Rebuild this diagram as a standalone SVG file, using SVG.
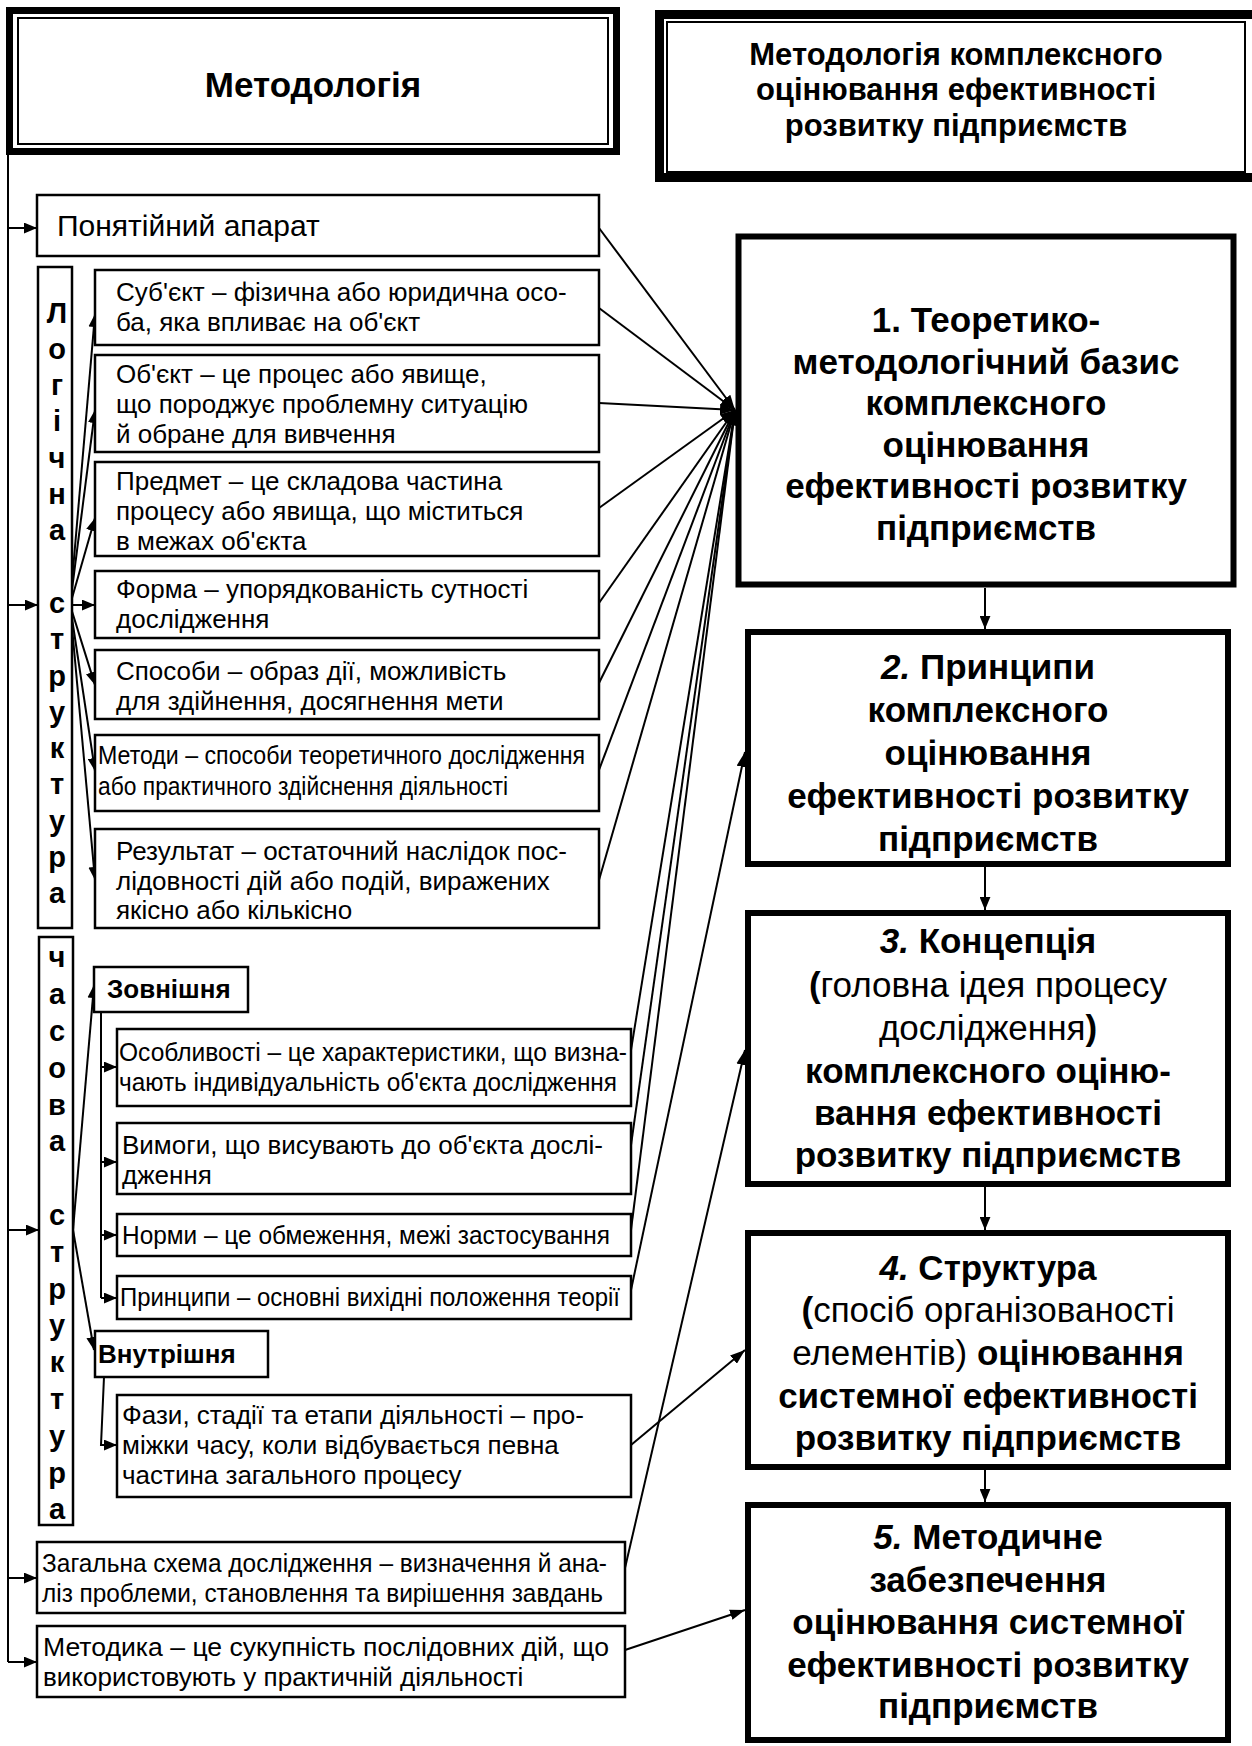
<svg xmlns="http://www.w3.org/2000/svg" width="1252" height="1746" viewBox="0 0 1252 1746">
<defs>
<style>
.bx{fill:#fff;stroke:#000;stroke-width:2.5}
.rb{fill:#fff;stroke:#000;stroke-width:6}
.t{font-family:"Liberation Sans",Arial,sans-serif;font-size:26px;fill:#000}
.vb{font-family:"Liberation Sans",Arial,sans-serif;font-size:29px;font-weight:bold;text-anchor:middle;fill:#000}
.sb{font-family:"Liberation Sans",Arial,sans-serif;font-size:26px;font-weight:bold;fill:#000}
.rt{font-family:"Liberation Sans",Arial,sans-serif;font-size:35px;font-weight:bold;text-anchor:middle;fill:#000}
.n{font-weight:normal}
.i{font-style:italic}
.c{fill:none;stroke:#000;stroke-width:2}
</style>
<marker id="ah" viewBox="0 0 12 10" refX="12" refY="5" markerWidth="13" markerHeight="11" markerUnits="userSpaceOnUse" orient="auto"><path d="M0,0 L12,5 L0,10 z" fill="#000"/></marker>
<marker id="ah2" viewBox="0 0 14 10" refX="14" refY="5" markerWidth="15" markerHeight="11" markerUnits="userSpaceOnUse" orient="auto"><path d="M0,0 L14,5 L0,10 z" fill="#000"/></marker>
</defs>
<rect width="1252" height="1746" fill="#fff"/>

<g id="connectors">
<line class="c" x1="8" y1="150" x2="8" y2="1662" stroke-width="2.5"/>
<line class="c" x1="8" y1="228" x2="37" y2="228" marker-end="url(#ah)"/>
<line class="c" x1="8" y1="605" x2="38" y2="605" marker-end="url(#ah)"/>
<line class="c" x1="8" y1="1230" x2="39" y2="1230" marker-end="url(#ah)"/>
<line class="c" x1="8" y1="1578" x2="37" y2="1578" marker-end="url(#ah)"/>
<line class="c" x1="8" y1="1662" x2="37" y2="1662" marker-end="url(#ah)"/>
<line class="c" x1="70" y1="605" x2="95" y2="314" marker-end="url(#ah)"/>
<line class="c" x1="70" y1="605" x2="95" y2="410" marker-end="url(#ah)"/>
<line class="c" x1="70" y1="605" x2="95" y2="518" marker-end="url(#ah)"/>
<line class="c" x1="70" y1="605" x2="95" y2="605" marker-end="url(#ah)"/>
<line class="c" x1="70" y1="605" x2="95" y2="685" marker-end="url(#ah)"/>
<line class="c" x1="70" y1="605" x2="95" y2="771" marker-end="url(#ah)"/>
<line class="c" x1="70" y1="605" x2="95" y2="880" marker-end="url(#ah)"/>
<line class="c" x1="73" y1="1230" x2="94" y2="985" marker-end="url(#ah)"/>
<line class="c" x1="73" y1="1230" x2="94" y2="1350" marker-end="url(#ah)"/>
<line class="c" x1="101" y1="1012" x2="101" y2="1298"/>
<line class="c" x1="101" y1="1067" x2="117" y2="1067" marker-end="url(#ah)"/>
<line class="c" x1="101" y1="1162" x2="117" y2="1162" marker-end="url(#ah)"/>
<line class="c" x1="101" y1="1235" x2="117" y2="1235" marker-end="url(#ah)"/>
<line class="c" x1="101" y1="1298" x2="117" y2="1298" marker-end="url(#ah)"/>
<polyline class="c" points="104,1377 101,1445 117,1445" marker-end="url(#ah)"/>
<line class="c" x1="599" y1="228" x2="735" y2="410" marker-end="url(#ah2)"/>
<line class="c" x1="599" y1="308" x2="735" y2="410" marker-end="url(#ah2)"/>
<line class="c" x1="599" y1="403" x2="735" y2="410" marker-end="url(#ah2)"/>
<line class="c" x1="599" y1="508" x2="735" y2="410" marker-end="url(#ah2)"/>
<line class="c" x1="599" y1="603" x2="735" y2="410" marker-end="url(#ah2)"/>
<line class="c" x1="599" y1="683" x2="735" y2="410" marker-end="url(#ah2)"/>
<line class="c" x1="599" y1="770" x2="735" y2="410" marker-end="url(#ah2)"/>
<line class="c" x1="599" y1="880" x2="735" y2="410" marker-end="url(#ah2)"/>
<line class="c" x1="631" y1="1050" x2="735" y2="410" marker-end="url(#ah2)"/>
<line class="c" x1="631" y1="1145" x2="735" y2="410" marker-end="url(#ah2)"/>
<line class="c" x1="631" y1="1230" x2="735" y2="410" marker-end="url(#ah2)"/>
<line class="c" x1="631" y1="1290" x2="745" y2="752" marker-end="url(#ah2)"/>
<line class="c" x1="625" y1="1568" x2="745" y2="1050" marker-end="url(#ah2)"/>
<line class="c" x1="631" y1="1445" x2="745" y2="1350" marker-end="url(#ah2)"/>
<line class="c" x1="625" y1="1650" x2="745" y2="1610" marker-end="url(#ah2)"/>
<line class="c" x1="985" y1="588" x2="985" y2="629" marker-end="url(#ah)"/>
<line class="c" x1="985" y1="867" x2="985" y2="910" marker-end="url(#ah)"/>
<line class="c" x1="985" y1="1187" x2="985" y2="1230" marker-end="url(#ah)"/>
<line class="c" x1="985" y1="1470" x2="985" y2="1502" marker-end="url(#ah)"/>
</g>

<g id="n-methodology">
<rect x="9.5" y="10.5" width="607" height="141" fill="#fff" stroke="#000" stroke-width="7"/>
<rect x="18" y="18" width="590" height="126" fill="none" stroke="#000" stroke-width="2"/>
<text x="313" y="97" class="rt">Методологія</text>
</g>

<g id="n-title">
<rect x="659.5" y="14.5" width="600" height="163" fill="#fff" stroke="#000" stroke-width="9"/>
<rect x="667" y="22" width="578" height="150" fill="none" stroke="#000" stroke-width="2"/>
<text class="rt" style="font-size:31px" x="956"><tspan x="956" y="65">Методологія комплексного</tspan><tspan x="956" y="100">оцінювання ефективності</tspan><tspan x="956" y="136">розвитку підприємств</tspan></text>
</g>

<g id="n-aparat">
<rect class="bx" x="37" y="195" width="562" height="61"/>
<text class="t" x="57" y="236" style="font-size:30px">Понятійний апарат</text>
</g>

<g id="n-logical">
<rect class="bx" x="38" y="267" width="34" height="661"/>
<text class="vb" x="57" y="323">Л</text>
<text class="vb" x="57" y="359">о</text>
<text class="vb" x="57" y="395">г</text>
<text class="vb" x="57" y="431">і</text>
<text class="vb" x="57" y="468">ч</text>
<text class="vb" x="57" y="504">н</text>
<text class="vb" x="57" y="540">а</text>
<text class="vb" x="57" y="613">с</text>
<text class="vb" x="57" y="649">т</text>
<text class="vb" x="57" y="686">р</text>
<text class="vb" x="57" y="722">у</text>
<text class="vb" x="57" y="758">к</text>
<text class="vb" x="57" y="794">т</text>
<text class="vb" x="57" y="831">у</text>
<text class="vb" x="57" y="867">р</text>
<text class="vb" x="57" y="903">а</text>
</g>

<g id="n-subject">
<rect class="bx" x="95" y="270" width="504" height="75"/>
<text class="t"><tspan x="116" y="301">Суб'єкт – фізична або юридична осо-</tspan><tspan x="116" y="331">ба, яка впливає на об'єкт</tspan></text>
</g>
<g id="n-object">
<rect class="bx" x="95" y="355" width="504" height="97"/>
<text class="t"><tspan x="116" y="383">Об'єкт – це процес або явище,</tspan><tspan x="116" y="413">що породжує проблемну ситуацію</tspan><tspan x="116" y="443">й обране для вивчення</tspan></text>
</g>
<g id="n-predmet">
<rect class="bx" x="95" y="462" width="504" height="94"/>
<text class="t"><tspan x="116" y="490">Предмет – це складова частина</tspan><tspan x="116" y="520">процесу або явища, що міститься</tspan><tspan x="116" y="550">в межах об'єкта</tspan></text>
</g>
<g id="n-forma">
<rect class="bx" x="95" y="571" width="504" height="67"/>
<text class="t"><tspan x="116" y="598">Форма – упорядкованість сутності</tspan><tspan x="116" y="628">дослідження</tspan></text>
</g>
<g id="n-sposoby">
<rect class="bx" x="95" y="650" width="504" height="69"/>
<text class="t"><tspan x="116" y="680">Способи – образ дії, можливість</tspan><tspan x="116" y="710">для здійнення, досягнення мети</tspan></text>
</g>
<g id="n-metody">
<rect class="bx" x="95" y="735" width="504" height="76"/>
<text class="t"><tspan x="98" y="764" textLength="487" lengthAdjust="spacingAndGlyphs">Методи – способи теоретичного дослідження</tspan><tspan x="98" y="795" textLength="410" lengthAdjust="spacingAndGlyphs">або практичного здійснення діяльності</tspan></text>
</g>
<g id="n-result">
<rect class="bx" x="95" y="829" width="504" height="99"/>
<text class="t"><tspan x="116" y="860">Результат – остаточний наслідок пос-</tspan><tspan x="116" y="890">лідовності дій або подій, виражених</tspan><tspan x="116" y="919">якісно або кількісно</tspan></text>
</g>

<g id="n-time">
<rect class="bx" x="39" y="937" width="34" height="588"/>
<text class="vb" x="57" y="967">ч</text>
<text class="vb" x="57" y="1004">а</text>
<text class="vb" x="57" y="1041">с</text>
<text class="vb" x="57" y="1078">о</text>
<text class="vb" x="57" y="1115">в</text>
<text class="vb" x="57" y="1151">а</text>
<text class="vb" x="57" y="1225">с</text>
<text class="vb" x="57" y="1262">т</text>
<text class="vb" x="57" y="1299">р</text>
<text class="vb" x="57" y="1335">у</text>
<text class="vb" x="57" y="1372">к</text>
<text class="vb" x="57" y="1409">т</text>
<text class="vb" x="57" y="1446">у</text>
<text class="vb" x="57" y="1483">р</text>
<text class="vb" x="57" y="1519">а</text>
</g>

<g id="n-external">
<rect class="bx" x="94" y="967" width="154" height="45"/>
<text class="sb" x="107" y="998">Зовнішня</text>
</g>
<g id="n-features">
<rect class="bx" x="117" y="1029" width="514" height="77"/>
<text class="t"><tspan x="119" y="1061" textLength="508" lengthAdjust="spacingAndGlyphs">Особливості – це характеристики, що визна-</tspan><tspan x="119" y="1091" textLength="498" lengthAdjust="spacingAndGlyphs">чають індивідуальність об'єкта дослідження</tspan></text>
</g>
<g id="n-requirements">
<rect class="bx" x="117" y="1123" width="514" height="71"/>
<text class="t"><tspan x="122" y="1154">Вимоги, що висувають до об'єкта дослі-</tspan><tspan x="122" y="1184">дження</tspan></text>
</g>
<g id="n-norms">
<rect class="bx" x="117" y="1214" width="514" height="42"/>
<text class="t" x="122" y="1244" textLength="488" lengthAdjust="spacingAndGlyphs">Норми – це обмеження, межі застосування</text>
</g>
<g id="n-principles">
<rect class="bx" x="117" y="1276" width="514" height="43"/>
<text class="t" x="120" y="1306" textLength="500" lengthAdjust="spacingAndGlyphs">Принципи – основні вихідні положення теорії</text>
</g>

<g id="n-internal">
<rect class="bx" x="95" y="1331" width="173" height="46"/>
<text class="sb" x="98" y="1363">Внутрішня</text>
</g>
<g id="n-phases">
<rect class="bx" x="117" y="1395" width="514" height="102"/>
<text class="t"><tspan x="122" y="1424">Фази, стадії та етапи діяльності – про-</tspan><tspan x="122" y="1454">міжки часу, коли відбувається певна</tspan><tspan x="122" y="1484">частина загального процесу</tspan></text>
</g>

<g id="n-scheme">
<rect class="bx" x="37" y="1542" width="588" height="71"/>
<text class="t"><tspan x="42" y="1572" textLength="565" lengthAdjust="spacingAndGlyphs">Загальна схема дослідження – визначення й ана-</tspan><tspan x="42" y="1602" textLength="561" lengthAdjust="spacingAndGlyphs">ліз проблеми, становлення та вирішення завдань</tspan></text>
</g>
<g id="n-methodics">
<rect class="bx" x="37" y="1626" width="588" height="71"/>
<text class="t"><tspan x="43" y="1656" textLength="566" lengthAdjust="spacingAndGlyphs">Методика – це сукупність послідовних дій, що</tspan><tspan x="43" y="1686">використовують у практичній діяльності</tspan></text>
</g>

<g id="n-box1">
<rect class="rb" x="738.5" y="236.5" width="495" height="348" stroke-width="7"/>
<text class="rt"><tspan x="986" y="332">1. Теоретико-</tspan><tspan x="986" y="374">методологічний базис</tspan><tspan x="986" y="415">комплексного</tspan><tspan x="986" y="457">оцінювання</tspan><tspan x="986" y="498">ефективності розвитку</tspan><tspan x="986" y="540">підприємств</tspan></text>
</g>
<g id="n-box2">
<rect class="rb" x="748" y="632" width="480" height="232"/>
<text class="rt"><tspan x="988" y="679"><tspan class="i">2.</tspan> Принципи</tspan><tspan x="988" y="722">комплексного</tspan><tspan x="988" y="765">оцінювання</tspan><tspan x="988" y="808">ефективності розвитку</tspan><tspan x="988" y="851">підприємств</tspan></text>
</g>
<g id="n-box3">
<rect class="rb" x="748" y="913" width="480" height="271"/>
<text class="rt"><tspan x="988" y="953"><tspan class="i">3.</tspan> Концепція</tspan><tspan x="988" y="997">(<tspan class="n">головна ідея процесу</tspan></tspan><tspan x="988" y="1040"><tspan class="n">дослідження</tspan>)</tspan><tspan x="988" y="1083">комплексного оціню-</tspan><tspan x="988" y="1125">вання ефективності</tspan><tspan x="988" y="1167">розвитку підприємств</tspan></text>
</g>
<g id="n-box4">
<rect class="rb" x="748" y="1233" width="480" height="234"/>
<text class="rt"><tspan x="988" y="1280"><tspan class="i">4.</tspan> Структура</tspan><tspan x="988" y="1322">(<tspan class="n">спосіб організованості</tspan></tspan><tspan x="988" y="1365"><tspan class="n">елементів)</tspan> оцінювання</tspan><tspan x="988" y="1408">системної ефективності</tspan><tspan x="988" y="1450">розвитку підприємств</tspan></text>
</g>
<g id="n-box5">
<rect class="rb" x="748" y="1505" width="480" height="235"/>
<text class="rt"><tspan x="988" y="1549"><tspan class="i">5.</tspan> Методичне</tspan><tspan x="988" y="1592">забезпечення</tspan><tspan x="988" y="1634">оцінювання системної</tspan><tspan x="988" y="1677">ефективності розвитку</tspan><tspan x="988" y="1718">підприємств</tspan></text>
</g>
</svg>
